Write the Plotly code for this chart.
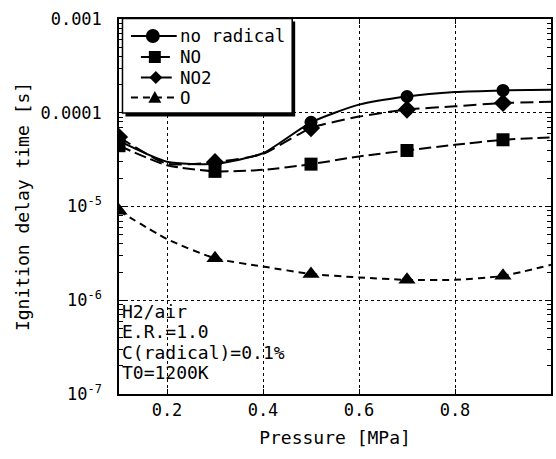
import plotly.graph_objects as go

pressure = [0.1, 0.2, 0.3, 0.4, 0.5, 0.6, 0.7, 0.8, 0.9, 1.0]
no_radical = [5.0e-5, 3.0e-5, 2.85e-5, 3.7e-5, 7.9e-5, 1.22e-4, 1.49e-4, 1.66e-4, 1.73e-4, 1.76e-4]
no = [4.45e-5, 2.75e-5, 2.37e-5, 2.46e-5, 2.83e-5, 3.42e-5, 3.96e-5, 4.55e-5, 5.15e-5, 5.45e-5]
no2 = [5.5e-5, 2.86e-5, 2.97e-5, 3.65e-5, 6.87e-5, 9.1e-5, 1.08e-4, 1.17e-4, 1.27e-4, 1.31e-4]
o_rad = [9.0e-6, 4.5e-6, 2.8e-6, 2.29e-6, 1.91e-6, 1.75e-6, 1.65e-6, 1.65e-6, 1.82e-6, 2.39e-6]

series_names = ["no radical", "NO", "NO2", "O"]
symbols = ["circle", "square", "diamond", "triangle-up"]
dashes = ["solid", "12px,5px", "13px,6px", "7px,5px"]
marker_sizes = [13, 13, 14, 15]

x_ticks = [0.2, 0.4, 0.6, 0.8, 1.0]
x_ticktext = ["0.2", "0.4", "0.6", "0.8", "1"]
y_ticks = [1e-7, 1e-6, 1e-5, 1e-4, 1e-3]
y_ticktext = ["10<sup>-7</sup>", "10<sup>-6</sup>", "10<sup>-5</sup>", "0.0001", "0.001"]
info_lines = ["H2/air", "E.R.=1.0", "C(radical)=0.1%", "T0=1200K"]

FONT = "DejaVu Sans Mono"
W, H = 556, 459
ML, MR, MT, MB = 119, 3, 19, 65
PW, PH = W - ML - MR, H - MT - MB


def px(x):
    return (x - ML) / PW


def py(y):
    return 1 - (y - MT) / PH


fig = go.Figure()
for name, ys, sym, dash, ms in zip(series_names, [no_radical, no, no2, o_rad], symbols, dashes, marker_sizes):
    sizes = [ms if i % 2 == 0 else 0 for i in range(len(pressure))]
    fig.add_trace(go.Scatter(
        x=pressure, y=ys, name=name, mode="lines+markers", opacity=1, showlegend=False,
        line=dict(color="black", width=2, dash=dash, shape="spline", smoothing=0.6),
        marker=dict(symbol=sym, size=sizes, color="black", opacity=1, line=dict(width=0)),
    ))

fig.update_layout(
    width=W, height=H,
    margin=dict(l=ML, r=MR, t=MT, b=MB),
    paper_bgcolor="white", plot_bgcolor="white",
    font=dict(family=FONT, color="black", size=17),
    showlegend=False,
    xaxis=dict(
        range=[0.1, 1.0], tickvals=x_ticks, ticktext=x_ticktext,
        showline=True, linecolor="black", linewidth=1.5, mirror="ticks",
        ticks="inside", ticklen=5, tickcolor="black",
        showgrid=True, gridcolor="black", griddash="dot", gridwidth=1,
        zeroline=False,
        title=dict(text="Pressure [MPa]", font=dict(size=18), standoff=12),
        tickfont=dict(size=17),
    ),
    yaxis=dict(
        type="log", range=[-7, -3], tickvals=y_ticks, ticktext=y_ticktext,
        showline=True, linecolor="black", linewidth=1.5, mirror="ticks",
        ticks="inside", ticklen=6, tickcolor="black",
        minor=dict(ticks="inside", ticklen=4, tickcolor="black", dtick="D1", showgrid=False),
        showgrid=True, gridcolor="black", griddash="dot", gridwidth=1,
        ticklabelstandoff=12,
        title=dict(text="Ignition delay time [s]", font=dict(size=18), standoff=6),
        tickfont=dict(size=17),
    ),
)

# ---- manual legend (box with drop shadow) ----
fig.add_shape(type="rect", xref="paper", yref="paper",
              x0=px(125.5), x1=px(296), y0=py(116.5), y1=py(21.5),
              fillcolor="black", line=dict(width=0), layer="above")
fig.add_shape(type="rect", xref="paper", yref="paper",
              x0=px(122.5), x1=px(293), y0=py(113), y1=py(18.5),
              fillcolor="white", line=dict(color="black", width=1.5), layer="above")

leg_rows = [36, 57, 77.5, 97.5]
leg_line_x = [(131, 177), (141, 172), (141, 172), (131, 177)]
leg_mark_x = [153, 155, 156, 155]
leg_mark_size = [14, 12, 13, 13]
for name, sym, dash, yc, (lx0, lx1), mx, ms in zip(series_names, symbols, dashes, leg_rows,
                                                      leg_line_x, leg_mark_x, leg_mark_size):
    fig.add_shape(type="line", xref="paper", yref="paper",
                  x0=px(lx0), x1=px(lx1), y0=py(yc), y1=py(yc),
                  line=dict(color="black", width=2, dash=dash), layer="above")
    h = ms / 2
    if sym == "circle":
        fig.add_shape(type="circle", xref="paper", yref="paper",
                      x0=px(mx - h), x1=px(mx + h), y0=py(yc + h), y1=py(yc - h),
                      fillcolor="black", line=dict(width=0), layer="above")
    elif sym == "square":
        fig.add_shape(type="rect", xref="paper", yref="paper",
                      x0=px(mx - h), x1=px(mx + h), y0=py(yc + h), y1=py(yc - h),
                      fillcolor="black", line=dict(width=0), layer="above")
    elif sym == "diamond":
        path = (f"M {px(mx)},{py(yc - h)} L {px(mx + h)},{py(yc)} "
                f"L {px(mx)},{py(yc + h)} L {px(mx - h)},{py(yc)} Z")
        fig.add_shape(type="path", xref="paper", yref="paper", path=path,
                      fillcolor="black", line=dict(width=0), layer="above")
    else:
        path = (f"M {px(mx)},{py(yc - h)} L {px(mx + h)},{py(yc + h * 0.8)} "
                f"L {px(mx - h)},{py(yc + h * 0.8)} Z")
        fig.add_shape(type="path", xref="paper", yref="paper", path=path,
                      fillcolor="black", line=dict(width=0), layer="above")
    fig.add_annotation(xref="paper", yref="paper", x=px(178), y=py(yc),
                       xanchor="left", yanchor="middle", showarrow=False,
                       text=name, font=dict(family=FONT, size=17.5, color="black"))

# ---- condition text ----
for txt, yc in zip(info_lines, [311, 331.5, 352, 372.5]):
    fig.add_annotation(xref="paper", yref="paper", x=px(120), y=py(yc),
                       xanchor="left", yanchor="middle", showarrow=False,
                       text=txt, font=dict(family=FONT, size=18, color="black"))

fig.write_html("out.html")
